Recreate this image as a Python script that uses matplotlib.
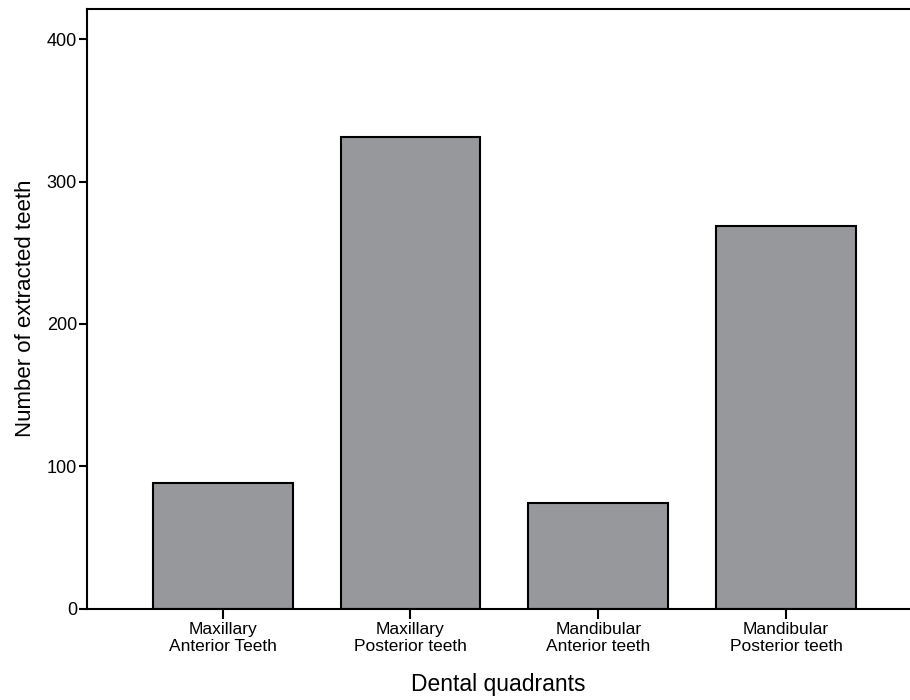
import matplotlib.pyplot as plt

# data
categories = ['Maxillary\nAnterior Teeth', 'Maxillary\nPosterior teeth',
              'Mandibular\nAnterior teeth', 'Mandibular\nPosterior teeth']
counts = [88, 331, 74, 269]
yticks = [0, 100, 200, 300, 400]

plt.rcParams['font.family'] = ['Liberation Sans', 'DejaVu Sans']

fig = plt.figure(figsize=(9.1, 7), dpi=100)
ax = fig.add_axes([0.0953, 0.1307, 0.9047, 0.857])

x = range(len(categories))
ax.bar(x, counts, width=0.745, color='#97989c', edgecolor='black', linewidth=1.5)

ax.set_xlim(-0.724, 3.66)
ax.set_ylim(0, 421.5)
ax.set_xticks(list(x))
ax.set_xticklabels(categories, fontsize=12.5, linespacing=1.1)
ax.set_yticks(yticks)
ax.tick_params(axis='y', labelsize=13, length=6, width=1.5, pad=1)
ax.tick_params(axis='x', length=7, width=1.5, pad=3)

ax.spines['right'].set_visible(False)
for s in ['left', 'bottom', 'top']:
    ax.spines[s].set_linewidth(1.5)

ax.set_xlabel('Dental quadrants', fontsize=16.5, labelpad=14)
ax.set_ylabel('Number of extracted teeth', fontsize=16, labelpad=8)

fig.savefig('out.png', dpi=100)
